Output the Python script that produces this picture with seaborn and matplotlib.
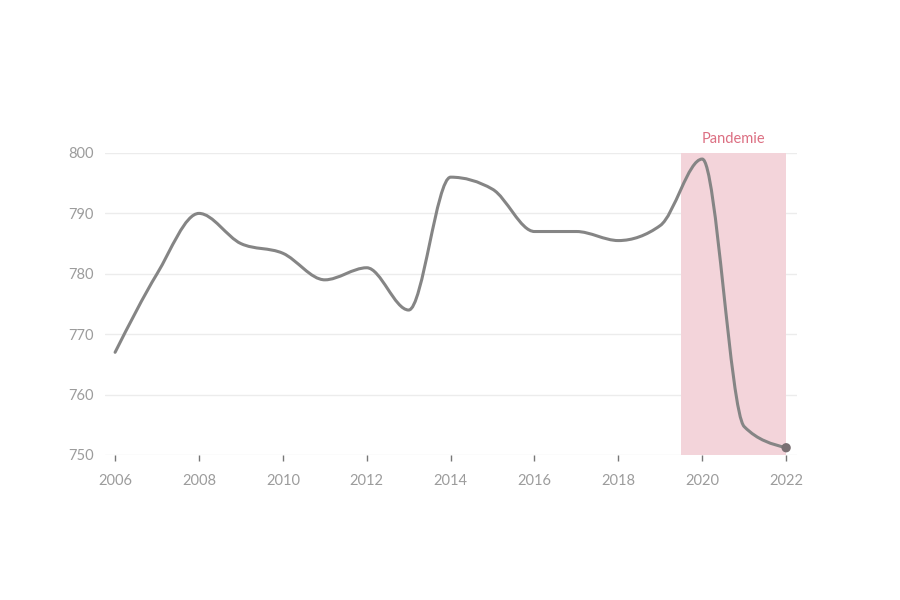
import numpy as np
import pandas as pd
import matplotlib
matplotlib.use("Agg")
import matplotlib.pyplot as plt
from matplotlib.path import Path
from matplotlib.patches import PathPatch
import seaborn as sns

years = [2006, 2007, 2008, 2009, 2010, 2011, 2012, 2013, 2014,
         2015, 2016, 2017, 2018, 2019, 2020, 2021, 2022]
values = [767, 780, 790, 785, 783.4, 779, 781, 774, 796,
          794, 787, 787, 785.5, 788, 799, 754.7, 751.2]
x_ticks = [2006, 2008, 2010, 2012, 2014, 2016, 2018, 2020, 2022]
y_ticks = [750, 760, 770, 780, 790, 800]
band_label = "Pandemie"
band_start, band_end = 2019.5, 2022

df = pd.DataFrame({"year": years, "value": values})

sns.set_theme(style="white")
plt.rcParams['font.family'] = ['Lato', 'DejaVu Sans']

fig = plt.figure(figsize=(9, 6), dpi=100)
ax = fig.add_axes([0.1167, 0.2417, 0.8856 - 0.1167, 0.745 - 0.2417])

LINE = "#858585"
GRID = "#ececec"
TICK = "#9c9c9c"
BAND = "#f3d4da"
BAND_TXT = "#dc6f82"

# pandemic band
ax.axvspan(band_start, band_end, ymin=0, ymax=1, color=BAND, lw=0, zorder=1)
ax.text((band_start + band_end) / 2, 802.3, band_label, ha="center", va="center",
        color=BAND_TXT, fontsize=10.5)

# gridlines
for yt in y_ticks:
    ax.axhline(yt, color=GRID, lw=1, zorder=0.5)


# monotone cubic (d3 curveMonotoneX style) as Bezier path
def monotone_path(xs, ys):
    xs = np.asarray(xs, float)
    ys = np.asarray(ys, float)
    n = len(xs)
    h = np.diff(xs)
    s = np.diff(ys) / h
    t = np.zeros(n)
    for i in range(1, n - 1):
        s0, s1 = s[i - 1], s[i]
        p = (s0 * h[i] + s1 * h[i - 1]) / (h[i - 1] + h[i])
        t[i] = (np.sign(s0) + np.sign(s1)) * min(abs(s0), abs(s1), 0.5 * abs(p))
    t[0] = (3 * s[0] - t[1]) / 2
    t[-1] = (3 * s[-1] - t[-2]) / 2
    verts = [(xs[0], ys[0])]
    codes = [Path.MOVETO]
    for i in range(n - 1):
        dx = h[i] / 3
        verts += [(xs[i] + dx, ys[i] + dx * t[i]),
                  (xs[i + 1] - dx, ys[i + 1] - dx * t[i + 1]),
                  (xs[i + 1], ys[i + 1])]
        codes += [Path.CURVE4] * 3
    return Path(verts, codes)


path = monotone_path(df["year"], df["value"])
ax.add_patch(PathPatch(path, facecolor="none", edgecolor=LINE, lw=2.2,
                       zorder=3, capstyle="round", joinstyle="round"))

# endpoint dot
sns.scatterplot(data=df.iloc[[-1]], x="year", y="value", ax=ax, s=45,
                color="#7a7073", edgecolor="none", zorder=4, legend=False)

ax.set_xlim(2005.76, 2022.26)
ax.set_ylim(750, 800)
ax.set_xticks(x_ticks)
ax.set_yticks(y_ticks)
ax.set_xticklabels([str(v) for v in x_ticks])
ax.set_yticklabels([str(v) for v in y_ticks])
ax.set_xlabel("")
ax.set_ylabel("")
for sp in ax.spines.values():
    sp.set_visible(False)
ax.tick_params(axis="x", bottom=True, length=4, width=1.0, color="#777777",
               direction="out", pad=10, labelsize=10.5, labelcolor=TICK)
ax.tick_params(axis="y", left=False, length=0, pad=8, labelsize=10.5,
               labelcolor=TICK)

fig.savefig("out.png", dpi=100, facecolor="white")
